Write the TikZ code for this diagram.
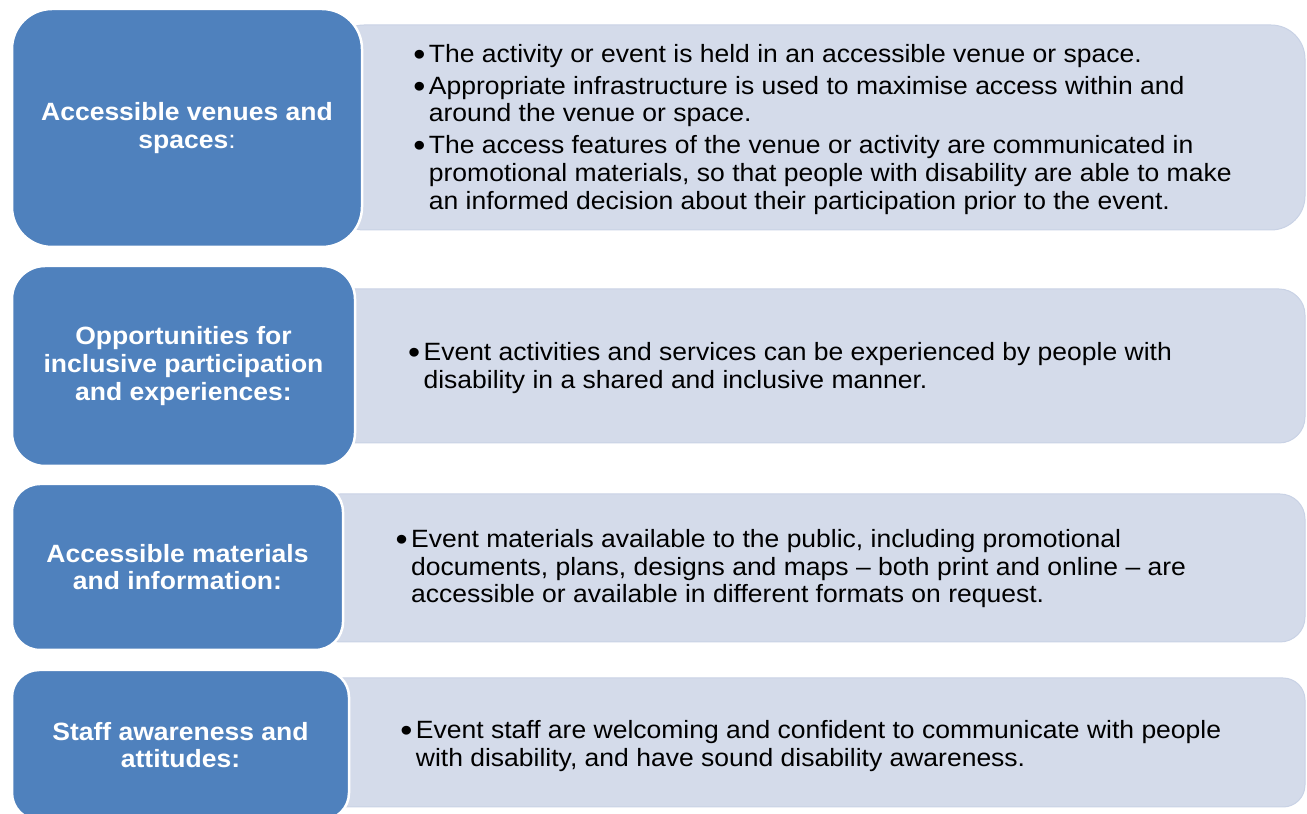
\documentclass[tikz,border=0pt]{standalone}
\usepackage{fontspec}
\setmainfont{Liberation Sans}[FakeStretch=1.06]
\definecolor{accentblue}{HTML}{4F81BD}
\definecolor{tintblue}{HTML}{D4DBEA}
\definecolor{tintedge}{HTML}{C9D2E5}
\newcommand{\bul}{\makebox[13bp][l]{\hspace*{-2.5bp}\raisebox{-3bp}{\scalebox{1.3}{\textbullet}}}}
\newcommand{\cont}{\hspace*{13bp}}
\begin{document}
\begin{tikzpicture}[line join=bevel,
  headbox/.style={draw=white,line width=2.5bp,fill=accentblue,text=white,inner sep=0pt,
    align=center,font=\bfseries\fontsize{25bp}{27.8bp}\selectfont},
  listbox/.style={draw=tintedge,line width=1bp,fill=tintblue,inner sep=0pt},
  listtext/.style={anchor=west,align=left,inner sep=0pt,font=\fontsize{25bp}{27.8bp}\selectfont},]
\useasboundingbox (0bp,0bp) rectangle (1307bp,814bp);
%%
\node (venues_bg) at (817.5bp,686.5bp) [listbox,rounded corners=34bp,minimum width=975bp,minimum height=205bp] {};
  \node (partic_bg) at (815.0bp,448.0bp) [listbox,rounded corners=26bp,minimum width=980bp,minimum height=154bp] {};
  \node (materials_bg) at (810.0bp,246.0bp) [listbox,rounded corners=25bp,minimum width=990bp,minimum height=148bp] {};
  \node (staff_bg) at (812.5bp,71.5bp) [listbox,rounded corners=22bp,minimum width=985bp,minimum height=129bp] {};
%
\node (venues) at (187.0bp,686.0bp) [headbox,rounded corners=40bp,minimum width=350bp,minimum height=238bp] {Accessible venues and\\spaces{\mdseries :}};
  \node (partic) at (183.5bp,448.0bp) [headbox,rounded corners=33bp,minimum width=343bp,minimum height=200bp] {Opportunities for\\inclusive participation\\and experiences:};
  \node (materials) at (177.5bp,247.0bp) [headbox,rounded corners=28bp,minimum width=331bp,minimum height=166bp] {Accessible materials\\and information:};
  \node (staff) at (180.5bp,69.0bp) [headbox,rounded corners=27bp,minimum width=337bp,minimum height=150bp] {Staff awareness and\\attitudes:};
%
\node (venues_list) at (415.7bp,684.6bp) [listtext] {\bul The activity or event is held in an accessible venue or space.\\[4bp]
    \bul Appropriate infrastructure is used to maximise access within and\\
    \cont around the venue or space.\\[4bp]
    \bul The access features of the venue or activity are communicated in\\
    \cont promotional materials, so that people with disability are able to make\\
    \cont an informed decision about their participation prior to the event.};
  \node (partic_list) at (410.4bp,445.8bp) [listtext] {\bul Event activities and services can be experienced by people with\\
    \cont disability in a shared and inclusive manner.};
  \node (materials_list) at (398.0bp,245.3bp) [listtext] {\bul Event materials available to the public, including promotional\\
    \cont documents, plans, designs and maps – both print and online – are\\
    \cont accessible or available in different formats on request.};
  \node (staff_list) at (402.7bp,68.3bp) [listtext] {\bul Event staff are welcoming and confident to communicate with people\\
    \cont with disability, and have sound disability awareness.};
%
\end{tikzpicture}
\end{document}
